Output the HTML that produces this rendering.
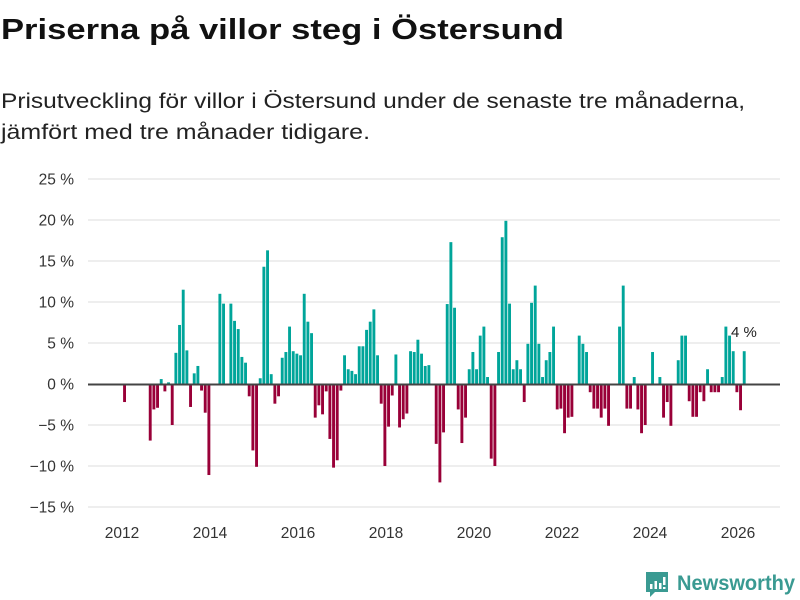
<!DOCTYPE html>
<html><head><meta charset="utf-8"><style>
html,body{margin:0;padding:0;background:#fff;}
svg{display:block;font-family:"Liberation Sans","DejaVu Sans",sans-serif;}
</style></head><body>
<svg id="chart" width="800" height="600" viewBox="0 0 800 600" xmlns="http://www.w3.org/2000/svg">
<text x="1" y="39" font-size="29" font-weight="bold" fill="#111" textLength="563" lengthAdjust="spacingAndGlyphs">Priserna på villor steg i Östersund</text>
<text x="1" y="108" font-size="21" fill="#222" textLength="744" lengthAdjust="spacingAndGlyphs">Prisutveckling för villor i Östersund under de senaste tre månaderna,</text>
<text x="1" y="139" font-size="21" fill="#222" textLength="369" lengthAdjust="spacingAndGlyphs">jämfört med tre månader tidigare.</text>
<g id="grid"></g>
<g id="yticks"></g>
<g id="xticks"></g>
<g id="bars"></g>
<line x1="88" x2="780" y1="384.5" y2="384.5" stroke="#444" stroke-width="2"/>
<text id="lastlabel" x="731" y="337" font-size="15" fill="#222">4 %</text>
<g>
<path d="M646 572 h22 v20 h-13 l-5 5 v-5 h-4 z" fill="#3a9a92"/>
<rect x="650" y="584" width="2.5" height="5" fill="#fff"/>
<rect x="654.5" y="581" width="2.5" height="8" fill="#fff"/>
<rect x="659" y="583" width="2.5" height="6" fill="#fff"/>
<rect x="663" y="577" width="2.5" height="8" fill="#fff"/>
<rect x="663" y="587" width="2.5" height="2" fill="#fff"/>
<text x="677" y="590" font-size="21" font-weight="bold" fill="#3a9a92" textLength="118" lengthAdjust="spacingAndGlyphs">Newsworthy</text>
</g>
</svg>
<script>
const startYear = 2012;
const values = [-2.2,0,0,0,0,0,0,-6.9,-3.1,-2.9,0.6,-0.9,0.2,-5,3.8,7.2,11.5,4.1,-2.8,1.3,2.2,-0.8,-3.5,-11.1,
0,0,11,9.8,0,9.8,7.7,6.7,3.3,2.6,-1.5,-8.1,-10.1,0.7,14.3,16.3,1.2,-2.4,-1.5,3.2,3.9,7,4,3.7,
3.5,11,7.6,6.2,-4.1,-2.6,-3.7,-0.9,-6.7,-10.2,-9.3,-0.8,3.5,1.8,1.6,1.2,4.6,4.6,6.6,7.6,9.1,3.5,-2.4,-10,
-5.2,-1.4,3.6,-5.3,-4.3,-3.6,4,3.9,5.4,3.7,2.2,2.3,0,-7.3,-12,-5.9,9.75,17.3,9.3,-3.1,-7.2,-4.1,
1.8,3.9,1.8,5.9,7,0.85,-9.1,-10,3.9,17.9,19.9,9.8,1.8,2.9,1.8,-2.2,4.9,9.9,12,4.9,0.85,2.9,3.9,7,
-3.1,-3,-6,-4.1,-4,0,5.9,4.9,3.9,-1,-3,-3,-4.1,-3,-5.1,0,0,7,12,-3,-3,0.85,-3.1,-6,
-5,0,3.9,0,0.85,-4.1,-2.2,-5.1,0,2.9,5.9,5.9,-2.1,-4,-4,-1,-2.1,1.8,-1,-1,-1,0.85,7,5.9,4,-1,-3.2,4];
const yTicks = [-15,-10,-5,0,5,10,15,20,25];
const xTickYears = [2012,2014,2016,2018,2020,2022,2024,2026];

const NS = "http://www.w3.org/2000/svg";
function y(v){ return 384 - v*8.2; }
function x(i){ return 122 + i*44/12; }
function mk(tag, attrs, parent){ const e=document.createElementNS(NS,tag); for(const k in attrs) e.setAttribute(k,attrs[k]); parent.appendChild(e); return e; }

const grid=document.getElementById('grid'), yt=document.getElementById('yticks'), xt=document.getElementById('xticks'), bars=document.getElementById('bars');
yTicks.forEach(t=>{
  if(t!==0){
    const l=mk('line',{x1:88,x2:780,y1:y(t),y2:y(t),stroke:'#e3e3e3','stroke-width':1.2},grid);
    
    
  }
  const tx=mk('text',{x:74,y:y(t)+5.5,'text-anchor':'end','font-size':15.5,fill:'#333'},yt);
  tx.textContent=(t<0?'\u2212'+(-t):t)+' %';
  
  
});
xTickYears.forEach(yr=>{
  const tx=mk('text',{x:x((yr-startYear)*12),y:538,'text-anchor':'middle','font-size':15.5,fill:'#333'},xt);
  tx.textContent=yr;
  
  
});
values.forEach((v,i)=>{
  if(v===0) return;
  const top=Math.min(y(v),y(0)), h=Math.abs(y(v)-y(0));
  const r=mk('rect',{x:x(i)+1.1,y:top,width:2.9,height:h,fill:v>0?'#00a59a':'#990038'},bars);
  
  
});
</script>
</body></html>
